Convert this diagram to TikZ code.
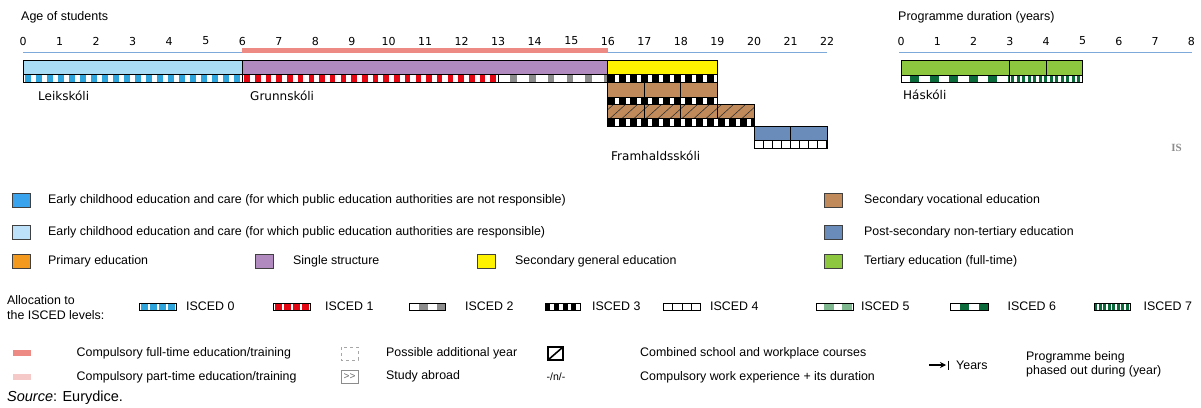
\documentclass[tikz,border=0pt]{standalone}
\usepackage{fontspec}
\setmainfont{Liberation Sans}
\newfontfamily\dv{DejaVu Sans}
\newfontfamily\lserif{Liberation Serif}
\usetikzlibrary{arrows.meta}
\definecolor{ececlight}{HTML}{A9DCF5}
\definecolor{ececleg}{HTML}{BDE1F8}
\definecolor{ecec}{HTML}{3AA3EE}
\definecolor{primaryc}{HTML}{F39A1E}
\definecolor{single}{HTML}{B18BC0}
\definecolor{secgen}{HTML}{FFF200}
\definecolor{secvoc}{HTML}{C08A5B}
\definecolor{postsec}{HTML}{6A8CBB}
\definecolor{tert}{HTML}{8DC63F}
\definecolor{iA}{HTML}{2DA5DC}
\definecolor{iB}{HTML}{E30613}
\definecolor{iC}{HTML}{8C8C8C}
\definecolor{iE}{HTML}{7FB88E}
\definecolor{iF}{HTML}{0B6B3A}
\definecolor{axisblue}{HTML}{7DA9DA}
\definecolor{cft}{HTML}{EE8A84}
\definecolor{cpt}{HTML}{F6C9C9}
% stripe: x1 x2 y1 y2 colour period blockwidth offset
\newcommand\stripe[8]{%
  \begin{scope}
    \clip (#1,#3) rectangle (#2,#4);
    \fill[white] (#1,#3) rectangle (#2,#4);
    \pgfmathtruncatemacro\nblk{(#2-#1)/#6+1}%
    \foreach \k in {0,...,\nblk}{%
      \fill[#5] ({#1+#8+\k*#6},#3) rectangle ++(#7,{#4-#3});}%
  \end{scope}%
  \draw[bar] (#1,#3) rectangle (#2,#4);}
\begin{document}
\begin{tikzpicture}[x=1pt,y=-1pt,
  bar/.style={draw=black,line width=1pt},
  tick/.style={font=\dv\fontsize{11}{13}\selectfont,inner sep=0},
  hdr/.style={font=\fontsize{12.5}{14}\selectfont,anchor=west,inner sep=0},
  lab/.style={font=\dv\fontsize{12}{14}\selectfont,anchor=west,inner sep=0},
  leg/.style={font=\fontsize{12.4}{14}\selectfont,anchor=west,inner sep=0},
  sq/.style={draw=black!75,line width=1pt},
  axisline/.style={draw=axisblue,line width=1.6pt}]
\useasboundingbox (0,0) rectangle (1201,407);

% ---------- age axis ----------
\node[hdr] (agehdr) at (21,17) {Age of students};
\foreach \a in {0,...,22} \node[tick] (t\a) at ({23+\a*36.55},41) {\a};
\coordinate (a0) at (23,52.5);
\coordinate (a22) at (827.1,52.5);
\draw[axisline] (a0) -- (a22);
\fill[cft] (242.3,48.3) rectangle (607.8,53.4);

% ---------- row 1 ----------
\fill[ececlight] (23,60.5) rectangle (242.3,74.5);
\fill[single] (242.3,60.5) rectangle (607.8,74.5);
\fill[secgen] (607.8,60.5) rectangle (717.45,74.5);
\stripe{23}{242.3}{74.5}{82}{iA}{11}{5.5}{2}
\stripe{242.3}{498.15}{74.5}{82}{iB}{10.7}{5.5}{2}
\stripe{498.15}{607.8}{74.5}{82}{iC}{18.8}{6.7}{12}
\stripe{607.8}{717.45}{74.5}{82}{black}{11}{7}{0}
\draw[bar] (23,60.5) rectangle (242.3,82);
\draw[bar] (242.3,60.5) rectangle (607.8,82);
\draw[bar] (607.8,60.5) rectangle (717.45,82);

% ---------- row 2 (vocational) ----------
\fill[secvoc] (607.8,82) rectangle (717.45,97);
\draw[bar] (607.8,82) rectangle (717.45,97);
\draw[bar] (644.35,82) -- (644.35,97) (680.9,82) -- (680.9,97);
\stripe{607.8}{717.45}{97}{104}{black}{11}{7}{0}

% ---------- row 3 (combined school/workplace) ----------
\fill[secvoc] (607.8,104) rectangle (754,118.5);
\begin{scope}
  \clip (607.8,104) rectangle (754,118.5);
  \foreach \h in {0,...,14} \draw[black!80,line width=0.6pt] ({598+\h*12},118.5) -- ++(16,-14.5);
\end{scope}
\draw[bar] (607.8,104) rectangle (754,118.5);
\draw[bar] (644.35,104) -- (644.35,118.5) (680.9,104) -- (680.9,118.5) (717.45,104) -- (717.45,118.5);
\stripe{607.8}{754}{118.5}{126.5}{black}{11}{7}{0}

% ---------- row 4 (post-secondary) ----------
\fill[postsec] (754,126.5) rectangle (827.1,140);
\draw[bar] (754,126.5) rectangle (827.1,140);
\stripe{754}{827.1}{140}{148}{black}{9}{1.2}{0}
\draw[bar] (790.55,126.5) -- (790.55,148);

% ---------- programme labels ----------
\node[lab] (leik) at (38,96) {Leikskóli};
\node[lab] (grunn) at (250,96) {Grunnskóli};
\node[lab] (fram) at (611,156) {Framhaldsskóli};

% ---------- programme duration axis ----------
\node[hdr] (durhdr) at (898,17) {Programme duration (years)};
\foreach \p in {0,...,8} \node[tick] (p\p) at ({901+\p*36.3},41) {\p};
\coordinate (b0) at (899,52.5);
\coordinate (b8) at (1191.5,52.5);
\draw[axisline] (b0) -- (b8);
\fill[tert] (901,60.5) rectangle (1082.5,75);
\draw[bar] (901,60.5) rectangle (1082.5,75);
\draw[bar] (1009.9,60.5) -- (1009.9,75) (1046.2,60.5) -- (1046.2,75);
\stripe{901}{1009.9}{75}{82.3}{iF}{19.5}{9}{9}
\stripe{1009.9}{1082.5}{75}{82.3}{iF}{5.5}{3}{1.5}
\node[lab] (hask) at (903,95) {Háskóli};
\node[font=\lserif\bfseries\fontsize{11}{12}\selectfont,text=black!45,inner sep=0] (is) at (1176.5,147.5) {IS};

% ---------- colour legend ----------
\fill[ecec] (12.5,193.5) rectangle (30.5,207.5);  \draw[sq] (12.5,193.5) rectangle (30.5,207.5);
\node[leg] (l1) at (48,200.5) {Early childhood education and care (for which public education authorities are not responsible)};
\fill[ececleg] (12.5,225) rectangle (30.5,239); \draw[sq] (12.5,225) rectangle (30.5,239);
\node[leg] (l2) at (48,232) {Early childhood education and care (for which public education authorities are responsible)};
\fill[primaryc] (12.5,254) rectangle (30.5,268); \draw[sq] (12.5,254) rectangle (30.5,268);
\node[leg] (l3) at (48,261) {Primary education};
\fill[single] (255,254) rectangle (273,268); \draw[sq] (255,254) rectangle (273,268);
\node[leg] (l4) at (293,261) {Single structure};
\fill[secgen] (477,254) rectangle (495,268); \draw[sq] (477,254) rectangle (495,268);
\node[leg] (l5) at (515,261) {Secondary general education};
\fill[secvoc] (824,193.5) rectangle (842,207.5); \draw[sq] (824,193.5) rectangle (842,207.5);
\node[leg] (l6) at (864,200.5) {Secondary vocational education};
\fill[postsec] (824,225) rectangle (842,239); \draw[sq] (824,225) rectangle (842,239);
\node[leg] (l7) at (864,232) {Post-secondary non-tertiary education};
\fill[tert] (824,254) rectangle (842,268); \draw[sq] (824,254) rectangle (842,268);
\node[leg] (l8) at (864,261) {Tertiary education (full-time)};

% ---------- ISCED legend ----------
\node[leg] (al1) at (7,300.5) {Allocation to};
\node[leg] (al2) at (7,315.5) {the ISCED levels:};
\stripe{139.7}{176}{303}{310}{iA}{9}{6.5}{1.5}
\node[leg] (i0) at (186,306.5) {ISCED 0};
\stripe{273.6}{310}{303}{310}{iB}{9}{6.5}{1.5}
\node[leg] (i1) at (325,306.5) {ISCED 1};
\stripe{409.5}{445.8}{303}{310}{iC}{18}{9}{9}
\node[leg] (i2) at (465,306.5) {ISCED 2};
\stripe{545.4}{580}{303}{310}{black}{8.6}{5}{0}
\node[leg] (i3) at (592,306.5) {ISCED 3};
\stripe{663}{700}{303}{310}{black}{9.25}{1.2}{0}
\node[leg] (i4) at (710,306.5) {ISCED 4};
\stripe{816}{853}{303}{310}{iE}{18}{10}{8}
\node[leg] (i5) at (861,306.5) {ISCED 5};
\stripe{950}{988}{303}{310}{iF}{19}{9.5}{9.5}
\node[leg] (i6) at (1007.5,306.5) {ISCED 6};
\stripe{1094}{1130}{303}{310}{iF}{4.5}{3}{0}
\node[leg] (i7) at (1143.5,306.5) {ISCED 7};

% ---------- other symbols ----------
\fill[cft] (12.5,350) rectangle (30.5,356);
\node[leg] (c1) at (76.5,353) {Compulsory full-time education/training};
\fill[cpt] (12.5,373.5) rectangle (30.5,379.5);
\node[leg] (c2) at (76.5,377) {Compulsory part-time education/training};
\draw[black!35,dashed,line width=0.6pt] (341,347) rectangle (358,360);
\node[leg] (pa) at (386,353) {Possible additional year};
\draw[black!45,line width=0.6pt] (341,370) rectangle (358,383);
\node[font=\fontsize{10}{11}\selectfont,text=black!60,inner sep=0] (sa) at (349.5,376.5) {{>}{>}};
\node[leg] (sab) at (386,376.5) {Study abroad};
\draw[line width=1.6pt] (548,347) rectangle (563,360);
\draw[line width=1.6pt] (548,360) -- (563,347);
\node[font=\fontsize{10.5}{11}\selectfont,inner sep=0] (wx) at (556,377) {-/n/-};
\node[leg] (cs) at (640,353) {Combined school and workplace courses};
\node[leg] (cw) at (640,377) {Compulsory work experience + its duration};
\coordinate (ar1) at (929,365);
\coordinate (ar2) at (946,365);
\draw[-{Stealth[length=6pt,width=6pt]},line width=1.3pt] (ar1) -- (ar2);
\draw[line width=1.3pt] (948.5,360.5) -- (948.5,369.5);
\node[leg] (yrs) at (956,365) {Years};
\node[leg] (pb1) at (1026,357.5) {Programme being};
\node[leg] (pb2) at (1026,371.5) {phased out during (year)};
\node[font=\fontsize{14.5}{16}\selectfont,anchor=west,inner sep=0] (src) at (7,398) {\textit{Source}: Eurydice.};
\end{tikzpicture}
\end{document}
